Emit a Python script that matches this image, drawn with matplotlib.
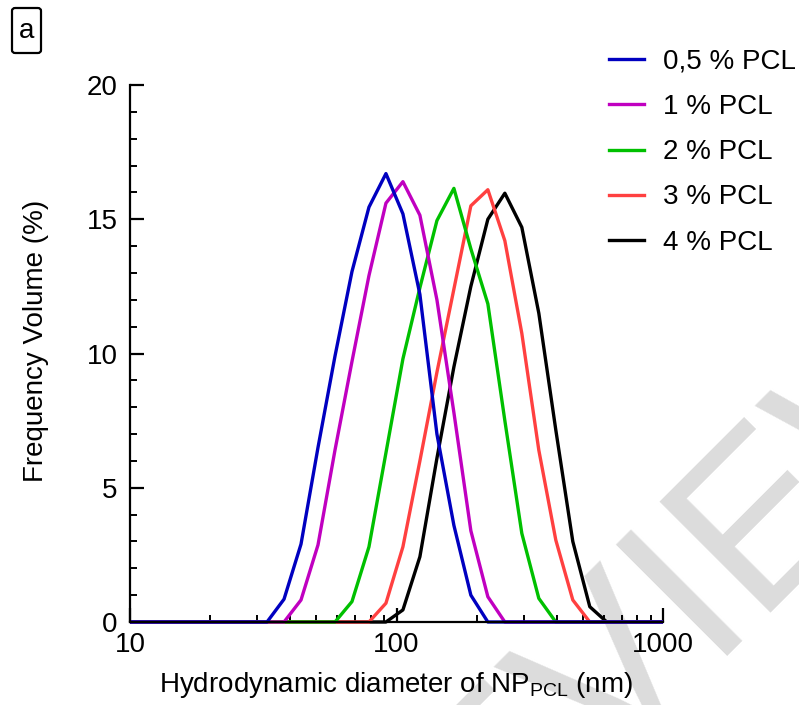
import numpy as np
import matplotlib
matplotlib.use("Agg")
import matplotlib.pyplot as plt
from matplotlib.transforms import Bbox, TransformedBbox
from matplotlib.patches import FancyBboxPatch

plt.rcParams['font.family'] = ['Liberation Sans', 'DejaVu Sans']

# Zetasizer size classes (nm)
sizes = [8.721, 10.1, 11.7, 13.54, 15.69, 18.17, 21.04, 24.36, 28.21, 32.67,
         37.84, 43.82, 50.75, 58.77, 68.06, 78.82, 91.28, 105.7, 122.4, 141.8,
         164.2, 190.1, 220.2, 255.0, 295.3, 342.0, 396.1, 458.7, 531.2, 615.1,
         712.4, 825.0, 955.4, 1106]

# frequency volume (%)
pcl_05 = [0, 0, 0, 0, 0, 0, 0, 0, 0, 0,
          0.85, 2.9, 6.5, 9.9, 13.05, 15.45, 16.7, 15.2, 12.2, 7.0,
          3.6, 1.0, 0, 0, 0, 0, 0, 0, 0, 0,
          0, 0, 0, 0]
pcl_1 = [0, 0, 0, 0, 0, 0, 0, 0, 0, 0,
         0, 0.82, 2.87, 6.4, 9.7, 12.9, 15.6, 16.4, 15.15, 12.0,
         7.8, 3.4, 0.94, 0, 0, 0, 0, 0, 0, 0,
         0, 0, 0, 0]
pcl_2 = [0, 0, 0, 0, 0, 0, 0, 0, 0, 0,
         0, 0, 0, 0, 0.76, 2.8, 6.3, 9.8, 12.45, 14.95,
         16.15, 13.9, 11.85, 7.5, 3.3, 0.88, 0, 0, 0, 0,
         0, 0, 0, 0]
pcl_3 = [0, 0, 0, 0, 0, 0, 0, 0, 0, 0,
         0, 0, 0, 0, 0, 0, 0.7, 2.8, 6.0, 9.3,
         12.4, 15.5, 16.1, 14.2, 10.75, 6.4, 3.05, 0.82, 0, 0,
         0, 0, 0, 0]
pcl_4 = [0, 0, 0, 0, 0, 0, 0, 0, 0, 0,
         0, 0, 0, 0, 0, 0, 0, 0.45, 2.43, 6.1,
         9.5, 12.5, 15.0, 15.97, 14.7, 11.5, 7.15, 3.0, 0.57, 0,
         0, 0, 0, 0]

labels = ["0,5 % PCL", "1 % PCL", "2 % PCL", "3 % PCL", "4 % PCL"]
series = [pcl_05, pcl_1, pcl_2, pcl_3, pcl_4]
colors = ["#0000c0", "#c000c0", "#00c000", "#ff4040", "#000000"]

fig = plt.figure(figsize=(7.99, 7.05), dpi=100)
ax = fig.add_axes([130 / 799, 1 - 622 / 705, 533 / 799, 537 / 705])
ax.set_facecolor("none")

# watermark (grey, behind everything)
fig.text(640 / 799, 1 - 725 / 705, "PREVIEW", rotation=45, rotation_mode="anchor",
         ha="center", va="baseline", fontsize=165, color="#dcdcdc", zorder=-1)

clip = TransformedBbox(Bbox([[0, -0.02], [1, 1.02]]), ax.transAxes)
lines = []
# black first so that blue ends up on top
for y, c, lab in reversed(list(zip(series, colors, labels))):
    ln, = ax.plot(sizes, y, color=c, lw=2.4, label=lab)
    ln.set_clip_box(clip)
    lines.append(ln)
lines = lines[::-1]

ax.set_xscale("log")
ax.set_xlim(10, 1000)
ax.set_ylim(0, 20)
ax.set_xticks([10, 100, 1000])
ax.set_xticklabels(["10", "100", "1000"])
ax.set_yticks([0, 5, 10, 15, 20])
ax.set_yticks(np.arange(0, 21, 1), minor=True)

for s in ["top", "right"]:
    ax.spines[s].set_visible(False)
for s in ["left", "bottom"]:
    ax.spines[s].set_linewidth(1.6)

ax.tick_params(which="major", direction="in", length=10, width=1.6, labelsize=20)
ax.tick_params(which="minor", direction="in", length=5, width=1.4)
ax.tick_params(axis="x", which="major", pad=7)
ax.tick_params(axis="y", which="major", pad=9)

ax.set_xlabel("Hydrodynamic diameter of NP$_\\mathregular{PCL}$ (nm)", fontsize=20, labelpad=9)
ax.set_ylabel("Frequency Volume (%)", fontsize=20)
ax.yaxis.set_label_coords(-0.152, 0.524)

fig.legend(lines, labels, loc="upper left", bbox_to_anchor=(609 / 799, 1 - 49 / 705),
           frameon=False, fontsize=20, handlelength=1.25, handletextpad=0.7,
           labelspacing=0.69, borderpad=0, borderaxespad=0)

# panel letter in a box
fig.text(26.5 / 799, 1 - 31 / 705, "a", fontsize=20, ha="center", va="center")
box = FancyBboxPatch((12 / 799, 1 - 53 / 705), 29 / 799, 45 / 705,
                     boxstyle="round,pad=0,rounding_size=0.004", transform=fig.transFigure,
                     fill=False, lw=1.6, ec="black")
fig.patches.append(box)

fig.savefig("out.png", dpi=100)
